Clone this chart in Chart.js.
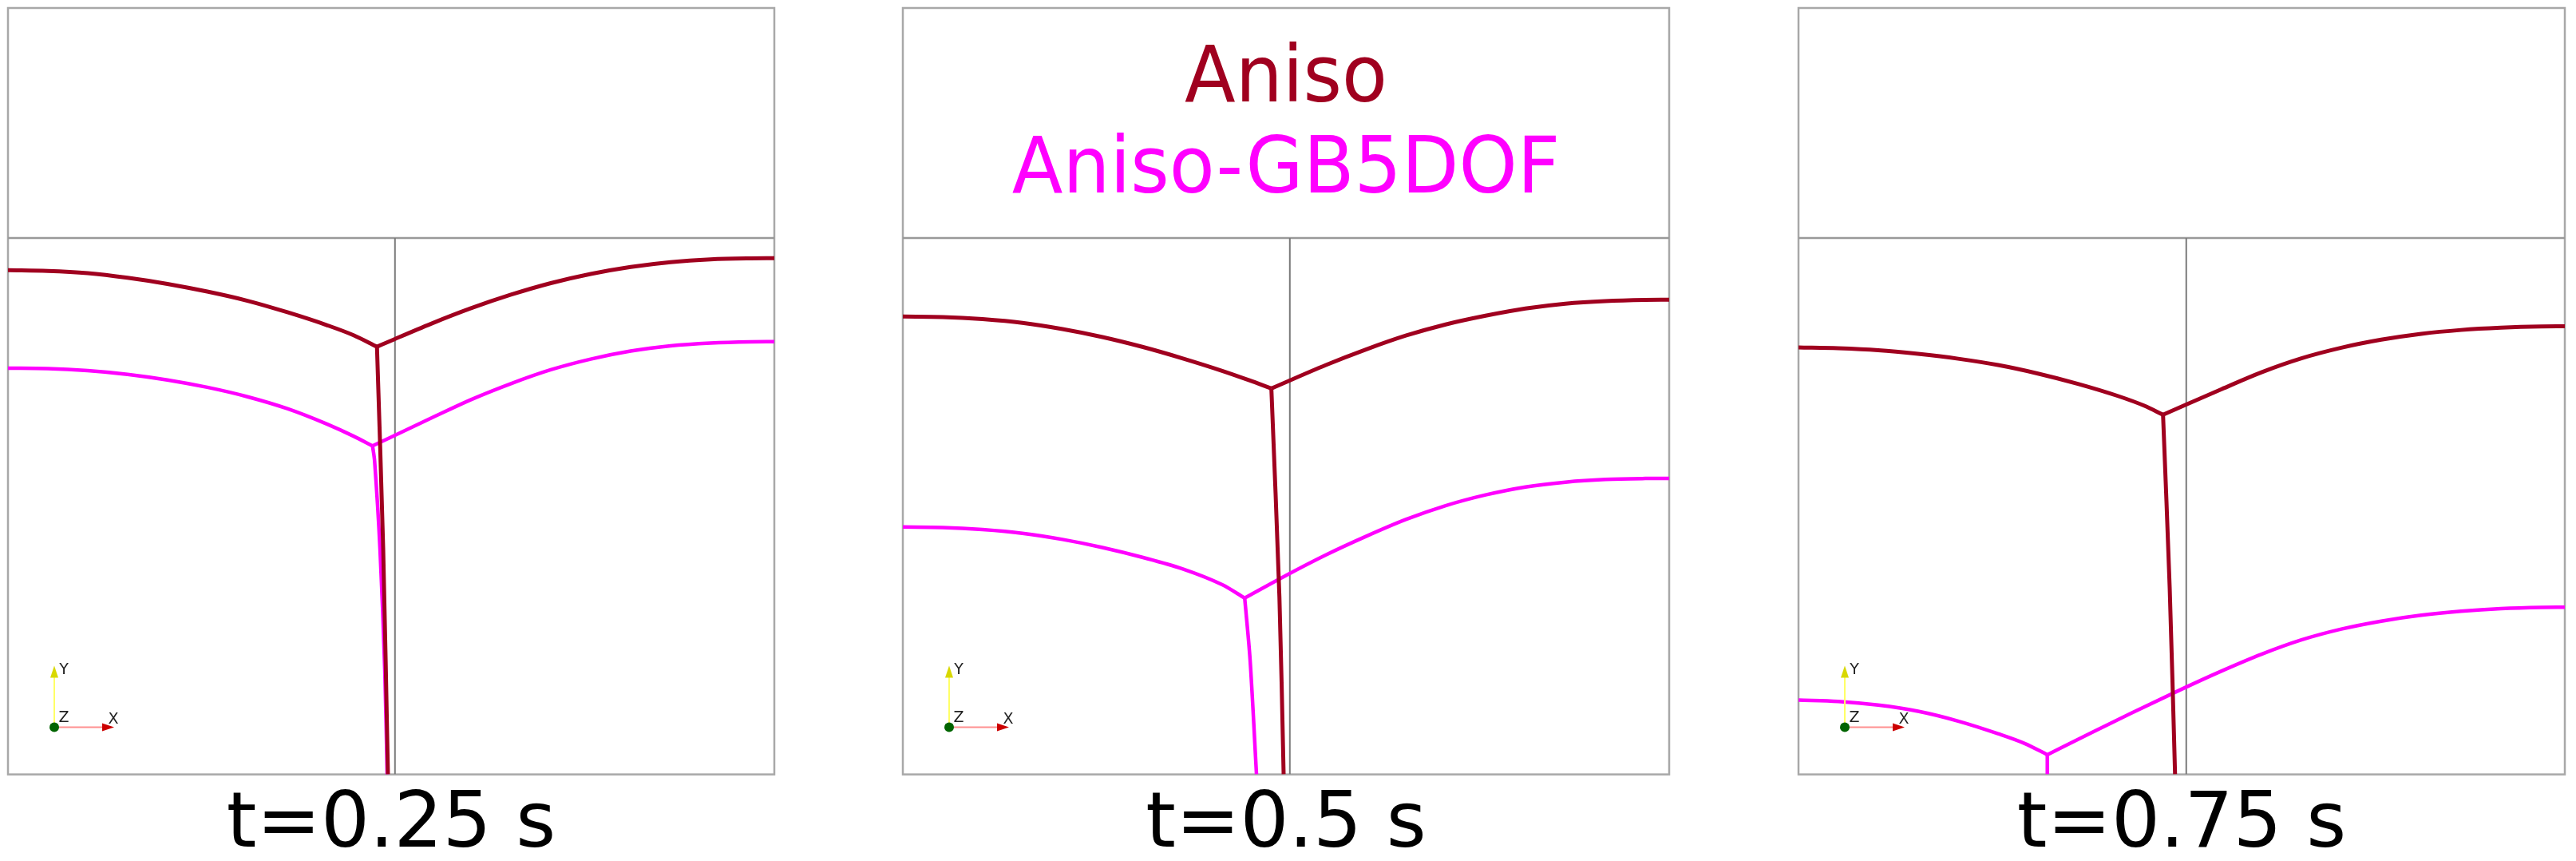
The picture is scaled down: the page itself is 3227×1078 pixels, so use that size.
<!DOCTYPE html>
<html>
<head>
<meta charset="utf-8">
<script src="https://cdn.jsdelivr.net/npm/chart.js@4"></script>
<style>
  body { margin: 0; background: #fff; }
  #wrap { position: relative; width: 3227px; height: 1078px; }
  canvas { position: absolute; top: 0; }
</style>
</head>
<body>
<div id="wrap">
  <canvas id="c0" width="970" height="1078" style="left:5px"></canvas>
  <canvas id="c1" width="970" height="1078" style="left:1126px"></canvas>
  <canvas id="c2" width="970" height="1078" style="left:2248px"></canvas>
</div>
<script>
// labels
const panelTimes = ['t=0.25 s', 't=0.5 s', 't=0.75 s'];
const seriesNames = ['Aniso', 'Aniso-GB5DOF'];
const seriesColors = ['#a0001f', '#ff00ff'];

// domain is the whole box, 0..1 both ways; top box starts at y = 0.7
const dividerY = 0.7;
const centerLineX = [0.505, 0.505, 0.506];

// t = 0.25 s
const aniso025Left = [[0, 0.658], [0.052, 0.657], [0.104, 0.654], [0.156, 0.648], [0.208, 0.640], [0.260, 0.630],
  [0.3125, 0.618], [0.3646, 0.603], [0.4167, 0.586], [0.451, 0.573], [0.4815, 0.558]];
const aniso025Right = [[0.4815, 0.558], [0.5, 0.566], [0.5521, 0.588], [0.6042, 0.6082], [0.6563, 0.6259], [0.7083, 0.641],
  [0.7604, 0.653], [0.8125, 0.6621], [0.8646, 0.6684], [0.9167, 0.672], [0.9688, 0.6733], [1, 0.6735]];
const aniso025Stem = [[0.4815, 0.558], [0.4896, 0.295], [0.4958, 0]];
const gb025Left = [[0, 0.530], [0.052, 0.5295], [0.104, 0.5269], [0.156, 0.522], [0.208, 0.5147], [0.260, 0.5051],
  [0.3125, 0.4928], [0.3646, 0.4772], [0.4167, 0.4569], [0.451, 0.4413], [0.4757, 0.4286]];
const gb025Right = [[0.4757, 0.4286], [0.5521, 0.4648], [0.6042, 0.489], [0.6563, 0.5099], [0.7083, 0.528],
  [0.7604, 0.5419], [0.8125, 0.5524], [0.8646, 0.5592], [0.9167, 0.5628], [0.9688, 0.5644], [1, 0.5646]];
const gb025Stem = [[0.4757, 0.4286], [0.4784, 0.409], [0.4854, 0.295], [0.4917, 0.1356], [0.4948, 0]];

// t = 0.5 s
const aniso05Left = [[0, 0.5975], [0.052, 0.5968], [0.104, 0.594], [0.156, 0.5892], [0.2083, 0.5811], [0.2604, 0.5707],
  [0.3125, 0.5579], [0.3646, 0.543], [0.4167, 0.5266], [0.4514, 0.5145], [0.4809, 0.5036]];
const aniso05Right = [[0.4809, 0.5036], [0.5521, 0.5342], [0.6042, 0.5544], [0.6563, 0.5725], [0.7083, 0.5871],
  [0.7604, 0.5985], [0.8125, 0.6079], [0.8646, 0.6142], [0.9167, 0.6176], [0.9688, 0.6191], [1, 0.6193]];
const aniso05Stem = [[0.4809, 0.5036], [0.4914, 0.2318], [0.4969, 0]];
const gb05Left = [[0, 0.3229], [0.052, 0.3222], [0.104, 0.3194], [0.156, 0.3146], [0.2083, 0.3066], [0.2604, 0.2961],
  [0.3125, 0.2833], [0.3646, 0.2683], [0.4167, 0.2475], [0.4461, 0.2301]];
const gb05Right = [[0.4461, 0.2301], [0.5, 0.2596], [0.5521, 0.2864], [0.6042, 0.3105], [0.6563, 0.3326], [0.7083, 0.3507],
  [0.7604, 0.3647], [0.8125, 0.3751], [0.8646, 0.3813], [0.9167, 0.3848], [0.9688, 0.3861], [1, 0.3863]];
const gb05Stem = [[0.4461, 0.2301], [0.4531, 0.150], [0.4615, 0]];

// t = 0.75 s
const aniso075Left = [[0, 0.5571], [0.052, 0.556], [0.104, 0.5535], [0.156, 0.5487], [0.2083, 0.5424], [0.2604, 0.5341],
  [0.3125, 0.523], [0.3646, 0.5096], [0.4167, 0.4938], [0.4514, 0.481], [0.4757, 0.4693]];
const aniso075Right = [[0.4757, 0.4693], [0.5521, 0.5027], [0.6042, 0.5247], [0.6563, 0.5429], [0.7083, 0.5567],
  [0.7604, 0.5672], [0.8125, 0.5749], [0.8646, 0.5799], [0.9167, 0.5829], [0.9688, 0.5845], [1, 0.5847]];
const aniso075Stem = [[0.4757, 0.4693], [0.4844, 0.2433], [0.4914, 0]];
const gb075Left = [[0, 0.097], [0.052, 0.0952], [0.104, 0.0904], [0.156, 0.0824], [0.2083, 0.0696], [0.2604, 0.0531],
  [0.2951, 0.0404], [0.3247, 0.0257]];
const gb075Right = [[0.3247, 0.0257], [0.382, 0.0544], [0.434, 0.0798], [0.5, 0.1112], [0.5521, 0.1349], [0.6042, 0.1568],
  [0.6563, 0.1755], [0.7083, 0.1896], [0.7604, 0.2], [0.8125, 0.2077], [0.8646, 0.2129], [0.9167, 0.2163],
  [0.9688, 0.2179], [1, 0.2181]];
const gb075Stem = [[0.3247, 0.0257], [0.3247, 0]];

const panels = [
  { aniso: [aniso025Left, aniso025Right, aniso025Stem], gb: [gb025Left, gb025Right, gb025Stem] },
  { aniso: [aniso05Left, aniso05Right, aniso05Stem], gb: [gb05Left, gb05Right, gb05Stem] },
  { aniso: [aniso075Left, aniso075Right, aniso075Stem], gb: [gb075Left, gb075Right, gb075Stem] }
];

Chart.defaults.font.family = '"DejaVu Sans", sans-serif';

function lineSet(points, color, width, order, smooth) {
  return {
    data: points.map(p => ({ x: p[0], y: p[1] })),
    borderColor: color,
    borderWidth: width,
    showLine: true,
    pointRadius: 0,
    pointHoverRadius: 0,
    cubicInterpolationMode: smooth ? 'monotone' : 'default',
    tension: smooth ? 0 : 0.3,
    borderJoinStyle: 'round',
    fill: false,
    order: order
  };
}

// box, divider, axes triad and the legend text
const framePlugin = {
  id: 'frame',
  beforeDatasetsDraw(chart) {
    const { ctx, chartArea: a, scales } = chart;
    const yDiv = scales.y.getPixelForValue(dividerY);
    ctx.save();
    ctx.strokeStyle = '#a8a8a8';
    ctx.lineWidth = 2.5;
    ctx.strokeRect(a.left, a.top, a.right - a.left, a.bottom - a.top);
    ctx.strokeStyle = '#999';
    ctx.beginPath();
    ctx.moveTo(a.left, yDiv);
    ctx.lineTo(a.right, yDiv);
    ctx.stroke();
    ctx.restore();
  },
  afterDatasetsDraw(chart) {
    const { ctx, chartArea: a } = chart;
    const ox = a.left + 58, oy = a.bottom - 59;
    ctx.save();
    // y arrow
    ctx.strokeStyle = '#ffff66';
    ctx.lineWidth = 2;
    ctx.beginPath(); ctx.moveTo(ox, oy); ctx.lineTo(ox, oy - 64); ctx.stroke();
    ctx.fillStyle = '#d8d800';
    ctx.beginPath(); ctx.moveTo(ox - 5, oy - 62); ctx.lineTo(ox + 5, oy - 62); ctx.lineTo(ox, oy - 77); ctx.fill();
    // x arrow
    ctx.strokeStyle = '#ff9090';
    ctx.beginPath(); ctx.moveTo(ox, oy); ctx.lineTo(ox + 62, oy); ctx.stroke();
    ctx.fillStyle = '#cc0000';
    ctx.beginPath(); ctx.moveTo(ox + 60, oy - 5); ctx.lineTo(ox + 60, oy + 5); ctx.lineTo(ox + 75, oy); ctx.fill();
    // z dot
    ctx.fillStyle = '#006400';
    ctx.beginPath(); ctx.arc(ox, oy, 6, 0, Math.PI * 2); ctx.fill();
    ctx.fillStyle = '#222';
    ctx.font = '19px "DejaVu Sans"';
    ctx.textAlign = 'center';
    ctx.textBaseline = 'middle';
    ctx.fillText('Y', ox + 12, oy - 72);
    ctx.fillText('Z', ox + 12, oy - 12);
    ctx.fillText('X', ox + 74, oy - 10);
    ctx.restore();
  },
  afterDraw(chart, args, opts) {
    if (!opts.showLegend) return;
    const { ctx, chartArea: a } = chart;
    const cx = (a.left + a.right) / 2;
    ctx.save();
    ctx.font = '98px "DejaVu Sans"';
    ctx.textAlign = 'center';
    ctx.textBaseline = 'alphabetic';
    // glyphs in the source are a touch narrower than DejaVu
    ctx.translate(cx, 0);
    ctx.scale(0.95, 1);
    ctx.fillStyle = seriesColors[0];
    ctx.fillText(seriesNames[0], 0, a.top + 117);
    ctx.fillStyle = seriesColors[1];
    ctx.fillText(seriesNames[1], 0, a.top + 231);
    ctx.restore();
  }
};

panels.forEach((p, i) => {
  const datasets = [];
  p.aniso.forEach((pts, k) => datasets.push(lineSet(pts, seriesColors[0], 5, 0, k < 2)));
  p.gb.forEach((pts, k) => datasets.push(lineSet(pts, seriesColors[1], 4.5, 1, k < 2)));
  datasets.push(lineSet([[centerLineX[i], 0], [centerLineX[i], dividerY]], '#7a7a7a', 2, 2, false));

  new Chart(document.getElementById('c' + i), {
    type: 'scatter',
    data: { datasets },
    options: {
      responsive: false,
      animation: false,
      devicePixelRatio: 1,
      layout: { padding: { left: 5, right: 5, top: 10, bottom: 0 } },
      scales: {
        x: { type: 'linear', min: 0, max: 1, display: false },
        y: { type: 'linear', min: 0, max: 1, display: false }
      },
      plugins: {
        legend: { display: false },
        tooltip: { enabled: false },
        title: {
          display: true,
          position: 'bottom',
          text: panelTimes[i],
          color: '#000',
          font: { size: 96, weight: 'normal', lineHeight: 0.9 },
          padding: { top: 22, bottom: 0 }
        },
        frame: { showLegend: i === 1 }
      }
    },
    plugins: [framePlugin]
  });
});
</script>
</body>
</html>
